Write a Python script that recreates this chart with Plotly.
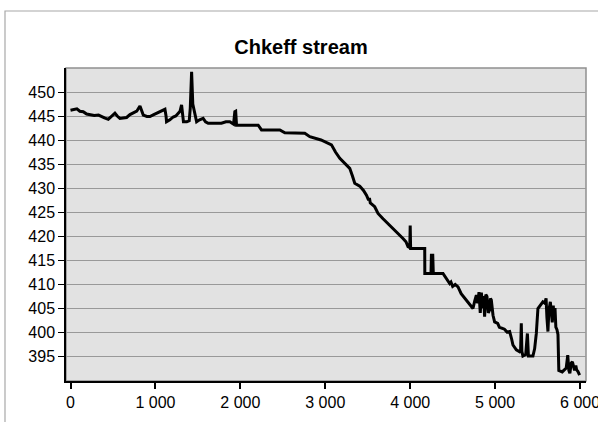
import plotly.graph_objects as go

x_vals = [0, 40, 75, 110, 150, 190, 230, 280, 330, 360, 400, 445, 480, 523, 550, 582, 620, 661,
          700, 739, 780, 818, 840, 857, 900, 935, 980, 1033, 1080, 1112, 1125, 1131, 1170, 1209,
          1240, 1268, 1290, 1308, 1320, 1330, 1370, 1398, 1410, 1426, 1440, 1453, 1470, 1485,
          1520, 1562, 1590, 1621, 1700, 1777, 1830, 1876, 1920, 1935, 1945, 1955, 2000, 2210,
          2249, 2465, 2524, 2759, 2818, 2857, 2950, 3073, 3120, 3171, 3230, 3288, 3320, 3347,
          3406, 3450, 3485, 3510, 3520, 3530, 3582, 3621, 3680, 3739, 3790, 3838, 3880, 3915,
          3950, 3974, 3995, 4000, 4005, 4171, 4172, 4245, 4250, 4257, 4265, 4272, 4386, 4420,
          4465, 4480, 4500, 4530, 4563, 4600, 4650, 4700, 4739, 4760, 4779, 4795, 4810, 4825,
          4838, 4855, 4865, 4876, 4890, 4904, 4920, 4935, 4945, 4955, 4975, 4994, 5030, 5050,
          5073, 5110, 5140, 5171, 5195, 5210, 5250, 5288, 5300, 5308, 5315, 5327, 5360, 5380,
          5392, 5445, 5465, 5485, 5504, 5530, 5562, 5585, 5600, 5610, 5622, 5633, 5650, 5673,
          5685, 5692, 5705, 5715, 5728, 5740, 5745, 5750, 5790, 5837, 5855, 5868, 5880, 5896,
          5910, 5935, 5950, 5960, 5974, 5995, 6014]
y_vals = [446.2, 446.3, 446.5, 446.0, 445.9, 445.4, 445.2, 445.1, 445.2, 444.9, 444.6, 444.3,
          444.9, 445.6, 445.0, 444.5, 444.6, 444.7, 445.3, 445.7, 446.0, 447.1, 446.2, 445.2,
          444.9, 444.9, 445.3, 445.7, 446.0, 446.4, 445.0, 443.8, 444.2, 444.8, 445.0, 445.6,
          446.0, 447.3, 445.0, 443.8, 443.8, 444.0, 446.6, 454.2, 447.5, 446.2, 444.5, 443.8,
          444.2, 444.5, 443.8, 443.5, 443.5, 443.5, 443.8, 443.8, 443.3, 445.9, 446.0, 443.1,
          443.1, 443.1, 442.1, 442.1, 441.5, 441.4, 440.7, 440.5, 440.0, 439.0, 437.5, 436.2,
          435.2, 434.1, 432.5, 431.0, 430.4, 429.5, 428.5, 427.5, 427.9, 426.9, 426.1, 424.7,
          423.6, 422.6, 421.8, 420.9, 420.3, 419.5, 418.8, 417.8, 417.6, 422.2, 417.4, 417.4,
          412.2, 412.2, 416.3, 412.2, 416.3, 412.2, 412.2, 411.3, 410.1, 410.4, 409.5, 409.9,
          409.4, 408.0, 406.8, 405.8, 404.9, 406.5, 407.7, 406.0, 408.3, 404.0, 408.2, 405.0,
          407.5, 403.2, 407.8, 407.4, 404.0, 404.6, 407.0, 406.7, 403.5, 402.1, 401.8, 401.0,
          400.8, 400.6, 400.0, 400.1, 398.5, 397.3, 396.3, 395.9, 396.2, 401.8, 396.0, 395.0,
          395.3, 399.7, 395.0, 395.0, 396.5, 399.7, 404.9, 405.6, 406.3, 406.0, 407.0, 403.0,
          400.1, 404.5, 406.3, 402.0, 405.5, 402.5, 405.0, 401.0, 400.5, 399.5, 392.4, 392.0,
          391.7, 392.5, 395.2, 392.0, 391.4, 393.5, 393.8, 392.0, 393.0, 392.1, 391.8, 391.0]

x_ticks = [0, 1000, 2000, 3000, 4000, 5000, 6000]
x_tick_text = ["0", "1 000", "2 000", "3 000", "4 000", "5 000", "6 000"]
y_ticks = [395, 400, 405, 410, 415, 420, 425, 430, 435, 440, 445, 450]

fig = go.Figure()
fig.add_trace(go.Scatter(x=x_vals, y=y_vals, mode="lines",
                         line=dict(color="black", width=3), showlegend=False,
                         hoverinfo="skip"))

L, R, T, B = 66, 12, 68, 41
W, H = 598, 422
pw, ph = W - L - R, H - T - B

fig.update_layout(
    width=W, height=H,
    margin=dict(l=L, r=R, t=T, b=B, pad=0, autoexpand=False),
    paper_bgcolor="white",
    plot_bgcolor="#e2e2e2",
    font=dict(family="Liberation Sans, Arial, sans-serif", size=16, color="black"),
    title=dict(text="<b>Chkeff stream</b>", x=(301 - L) / pw, xref="paper",
               y=1 - 47 / H, yref="container", xanchor="center", yanchor="middle",
               font=dict(size=20, color="black")),
    xaxis=dict(range=[-53, 6070], tickvals=x_ticks, ticktext=x_tick_text,
               showgrid=False, zeroline=False, showline=True, linecolor="black",
               linewidth=1.5, ticks="outside", ticklen=6, tickcolor="black",
               tickwidth=1.5, ticklabeloverflow="allow", automargin=False),
    yaxis=dict(range=[389.8, 455], tickvals=y_ticks, showgrid=True,
               gridcolor="#999999", gridwidth=1, zeroline=False, showline=True,
               linecolor="black", linewidth=1.5, ticks="outside", ticklen=6,
               tickcolor="black", tickwidth=1.2, automargin=False),
    shapes=[
        # plot area frame (gray top/right)
        dict(type="rect", xref="paper", yref="paper", x0=0, x1=1, y0=0, y1=1,
             line=dict(color="#909090", width=1.5), layer="below"),
        # outer chart frame
        dict(type="rect", xref="paper", yref="paper",
             x0=(5 - L) / pw, x1=(W + 20 - L) / pw,
             y0=-(B + 20) / ph, y1=1 + (T - 11) / ph,
             line=dict(color="#a8a8a8", width=1.2)),
    ],
)

fig.write_html("out.html")
